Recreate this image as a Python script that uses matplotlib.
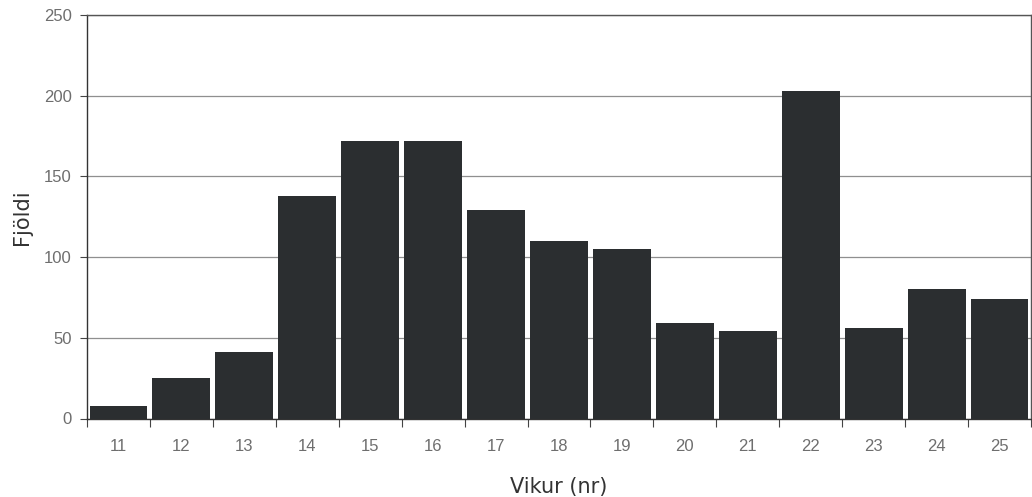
import numpy as np
import matplotlib
matplotlib.use('Agg')
import matplotlib.pyplot as plt

# weekly counts
weeks = ['11', '12', '13', '14', '15', '16', '17', '18', '19', '20', '21', '22', '23', '24', '25']
counts = [8, 25, 41, 138, 172, 172, 129, 110, 105, 59, 54, 203, 56, 80, 74]
yticks = [0, 50, 100, 150, 200, 250]

fig = plt.figure(figsize=(10.32, 4.97), dpi=100)
W, H = 1032., 497.
ax = fig.add_axes([87 / W, (H - 418.5) / H, 944 / W, 403.5 / H])

x = np.arange(len(weeks))
ax.bar(x, counts, width=0.92, color='#2b2e30', zorder=3)

ax.set_xlim(-0.5, len(weeks) - 0.5)
ax.set_ylim(0, 250)
ax.set_yticks(yticks)
ax.yaxis.grid(True, color='#8f8f8f', lw=0.9, zorder=0)

# tick marks between bars, labels under each bar
ax.set_xticks(np.arange(len(weeks) + 1) - 0.5)
ax.set_xticklabels([])
ax.set_xticks(x, minor=True)
ax.set_xticklabels(weeks, minor=True)
ax.tick_params(axis='x', which='major', length=6, width=0.8, color='#444444')
ax.tick_params(axis='x', which='minor', length=0, pad=15, labelsize=12,
               labelcolor='#6e6e6e')
ax.tick_params(axis='y', length=5, width=0.8, color='#444444', pad=6,
               labelsize=12, labelcolor='#6e6e6e')
for lab in ax.get_xticklabels(minor=True) + ax.get_yticklabels():
    lab.set_family('Liberation Sans')

for side in ['left', 'bottom']:
    ax.spines[side].set_color('#333333')
    ax.spines[side].set_linewidth(1.0)
for side in ['top', 'right']:
    ax.spines[side].set_color('#555555')
    ax.spines[side].set_linewidth(1.0)

ax.set_ylabel('Fjöldi', fontsize=15, color='#333333')
ax.yaxis.set_label_coords(-0.058, 0.5)
ax.set_xlabel('Vikur (nr)', fontsize=15, color='#333333')
ax.xaxis.set_label_coords(0.5, -0.145)

fig.savefig('out.png', dpi=100, facecolor='white')
